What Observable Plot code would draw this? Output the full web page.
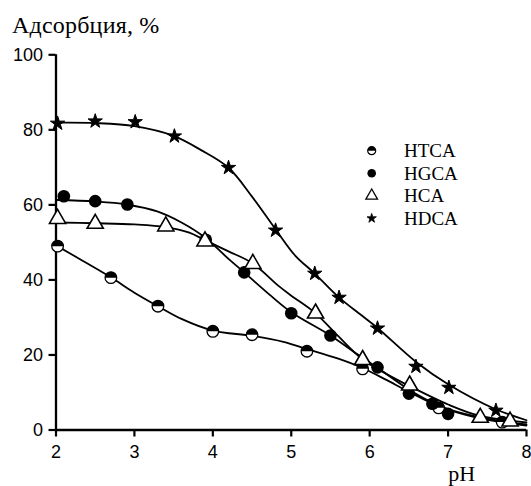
<!DOCTYPE html>
<html>
<head>
<meta charset="utf-8">
<script src="https://cdn.jsdelivr.net/npm/d3@7"></script>
<script src="https://cdn.jsdelivr.net/npm/@observablehq/plot@0.6"></script>
<style>
  html, body { margin: 0; padding: 0; background: #fff; }
  #wrap { position: relative; width: 531px; height: 486px; overflow: hidden; background: #fff; }
  #title { position: absolute; left: 12px; top: 13px; font-family: "Liberation Serif", "Times New Roman", serif; font-size: 24px; letter-spacing: 0.2px; line-height: 1; color: #000; white-space: nowrap; }
  #chart { position: absolute; left: 0; top: 30px; }
  #legend { position: absolute; left: 0; top: 0; pointer-events: none; }
</style>
</head>
<body>
<div id="wrap">
  <div id="title">Адсорбция, %</div>
  <div id="chart"></div>
  <svg id="legend" width="531" height="486"></svg>
</div>
<script>
// ---- data ----
const seriesNames = ["HTCA", "HGCA", "HCA", "HDCA"];
const xTicks = [2, 3, 4, 5, 6, 7, 8];
const yTicks = [0, 20, 40, 60, 80, 100];
const xLabel = "pH";
const yLabel = "Адсорбция, %";

// measured points
const htcaPH  = [2.02, 2.70, 3.30, 4.00, 4.50, 5.20, 5.91, 6.88, 7.69];
const htcaAds = [49.0, 40.6, 33.0, 26.3, 25.4, 21.0, 16.3, 5.9, 2.1];
const hgcaPH  = [2.10, 2.50, 2.91, 3.91, 4.40, 5.00, 5.50, 6.10, 6.50, 6.80, 7.00];
const hgcaAds = [62.3, 61.0, 60.1, 50.7, 42.0, 31.1, 25.2, 16.7, 9.7, 7.0, 4.3];
const hcaPH   = [2.02, 2.50, 3.40, 3.90, 4.51, 5.31, 5.91, 6.51, 7.41, 7.79];
const hcaAds  = [56.3, 55.0, 54.3, 50.3, 44.3, 31.1, 18.7, 11.9, 3.3, 2.3];
const hdcaPH  = [2.02, 2.50, 3.01, 3.51, 4.20, 4.80, 5.30, 5.61, 6.10, 6.59, 7.01, 7.61];
const hdcaAds = [81.7, 82.3, 82.1, 78.3, 69.9, 53.2, 41.7, 35.3, 27.1, 16.9, 11.3, 5.2];

// fitted curves
const htcaFitPH  = [2, 2.35, 2.7, 3.0, 3.3, 3.6, 4.0, 4.5, 4.9, 5.2, 5.6, 5.9, 6.2, 6.5, 6.9, 7.3, 7.7, 8];
const htcaFitAds = [49.2, 45, 40.7, 36.6, 33, 29.6, 26.5, 25.1, 23.5, 21.6, 19, 16.6, 13.5, 10.2, 6.2, 3.6, 2.0, 1.2];
const hgcaFitPH  = [2, 2.5, 2.9, 3.3, 3.6, 3.9, 4.2, 4.4, 4.75, 5.0, 5.5, 5.8, 6.1, 6.5, 6.8, 7.0, 7.5, 8];
const hgcaFitAds = [61.3, 60.9, 60.1, 58.2, 55.3, 51.3, 45.6, 42, 35.6, 31.4, 25.2, 20.8, 16.6, 10.8, 7.3, 5.6, 3.0, 1.5];
const hcaFitPH   = [2, 2.5, 3.0, 3.4, 3.7, 3.9, 4.2, 4.5, 4.85, 5.0, 5.31, 5.6, 5.9, 6.2, 6.5, 7.0, 7.4, 8];
const hcaFitAds  = [55.3, 55.1, 54.8, 54.1, 52.6, 50.6, 47.6, 44.5, 38.2, 35.8, 31.1, 25, 19, 15.1, 11.8, 6.8, 3.8, 2.0];
const hdcaFitPH  = [2, 2.5, 3.0, 3.5, 3.85, 4.2, 4.5, 4.8, 5.05, 5.3, 5.6, 5.9, 6.1, 6.6, 7.0, 7.6, 8];
const hdcaFitAds = [81.9, 81.8, 81.0, 78.4, 74.6, 69.9, 62.2, 53.5, 46.5, 41.7, 35.5, 30.5, 27.2, 18.0, 12.2, 5.6, 2.6];

// ---- build tables ----
const zip = (xs, ys) => xs.map((x, i) => ({x, y: ys[i]}));
const htca = zip(htcaPH, htcaAds), hgca = zip(hgcaPH, hgcaAds), hca = zip(hcaPH, hcaAds), hdca = zip(hdcaPH, hdcaAds);
const fits = [zip(htcaFitPH, htcaFitAds), zip(hgcaFitPH, hgcaFitAds), zip(hcaFitPH, hcaFitAds), zip(hdcaFitPH, hdcaFitAds)];

const topHalf = {
  draw(ctx, size) {
    const r = Math.sqrt(size / Math.PI);
    ctx.moveTo(-r, 0);
    ctx.arc(0, 0, r, Math.PI, 2 * Math.PI);
    ctx.closePath();
  }
};

const sans = "Liberation Sans, Arial, sans-serif";
const serif = "Liberation Serif, Times New Roman, serif";

const chart = Plot.plot({
  width: 531,
  height: 456,
  marginLeft: 55.5,
  marginRight: 5,
  marginTop: 24.3,
  marginBottom: 56.5,
  style: {fontFamily: sans, fontSize: "18px", color: "#000", background: "transparent"},
  x: {domain: [2, 8]},
  y: {domain: [0, 100]},
  marks: [
    ...fits.map(f => Plot.line(f, {x: "x", y: "y", curve: "catmull-rom", stroke: "#000", strokeWidth: 1.8})),
    Plot.ruleX([2], {stroke: "#000", strokeWidth: 2.3}),
    Plot.ruleY([0], {stroke: "#000", strokeWidth: 2.3}),
    Plot.axisX({ticks: xTicks, tickSize: 7, tickPadding: 8, tickFormat: d => String(d), label: null, fontSize: 18, fontFamily: sans, strokeWidth: 2.2}),
    Plot.axisY({ticks: yTicks, tickSize: 7, tickPadding: 6, tickFormat: d => String(d), label: null, fontSize: 18, fontFamily: sans, strokeWidth: 2.2}),
    // HTCA: half-filled circles
    Plot.dot(htca, {x: "x", y: "y", r: 5.8, symbol: "circle", fill: "#fff", stroke: "#000", strokeWidth: 1.3}),
    Plot.dot(htca, {x: "x", y: "y", r: 5.8, symbol: topHalf, fill: "#000", stroke: "none"}),
    // HGCA: filled circles
    Plot.dot(hgca, {x: "x", y: "y", r: 6.3, symbol: "circle", fill: "#000", stroke: "none"}),
    // HCA: open triangles
    Plot.dot(hca, {x: "x", y: "y", r: 6, symbol: "triangle", fill: "#fff", stroke: "#000", strokeWidth: 1.6}),
    // HDCA: stars
    Plot.dot(hdca, {x: "x", y: "y", r: 4.5, symbol: "star", fill: "#000", stroke: "#000", strokeWidth: 1, strokeLinejoin: "round"}),
    Plot.text([xLabel], {frameAnchor: "bottom-right", text: d => d, textAnchor: "start", lineAnchor: "bottom", dx: -78.3, dy: 50.5, fontFamily: serif, fontSize: 22, fill: "#000"})
  ]
});
document.getElementById("chart").appendChild(chart);

// ---- legend (inside plot area) ----
const leg = d3.select("#legend");
const rowY = [150.7, 173.3, 195.7, 218.3];
const symX = 371.7, textX = 404;
const legendSymbols = [
  g => {
    g.append("circle").attr("r", 4).attr("fill", "#fff").attr("stroke", "#000").attr("stroke-width", 1.2);
    g.append("path").attr("d", d3.symbol(topHalf, Math.PI * 16)()).attr("fill", "#000");
  },
  g => g.append("circle").attr("r", 4.3).attr("fill", "#000"),
  g => g.append("path").attr("d", d3.symbol(d3.symbolTriangle, 59)()).attr("fill", "#fff").attr("stroke", "#000").attr("stroke-width", 1.3),
  g => g.append("path").attr("d", d3.symbol(d3.symbolStar, 27)()).attr("fill", "#000").attr("stroke", "#000").attr("stroke-width", 0.8).attr("stroke-linejoin", "round")
];
seriesNames.forEach((name, i) => {
  const g = leg.append("g").attr("transform", `translate(${symX},${rowY[i]})`);
  legendSymbols[i](g);
  leg.append("text").attr("x", textX).attr("y", rowY[i] + 6.2)
    .attr("font-family", serif).attr("font-size", 19).attr("fill", "#000").text(name);
});
</script>
</body>
</html>
